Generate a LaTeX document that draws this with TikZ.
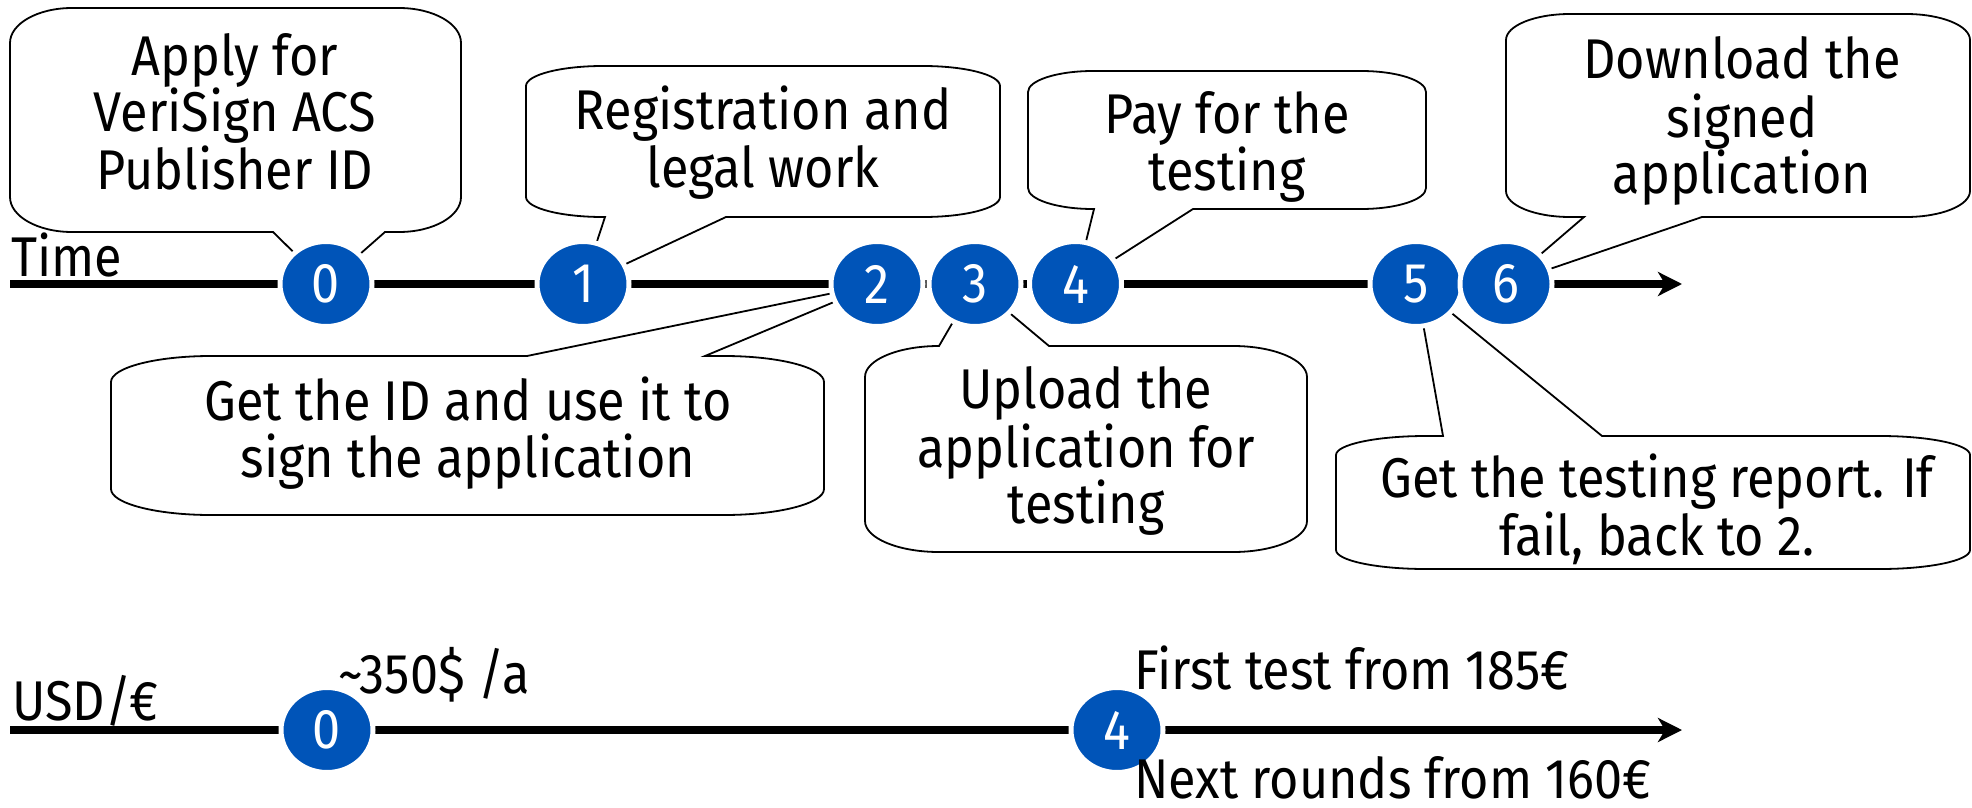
\documentclass[tikz,border=0pt]{standalone}
\usepackage{fontspec}
\setmainfont{Fira Sans}[FakeStretch=0.9]
\usetikzlibrary{shapes.geometric,arrows.meta}
\definecolor{nblue}{RGB}{0,84,184}
\pgfdeclarelayer{bg}
\pgfsetlayers{bg,main}
% callout with tail on bottom edge: x1,y1,x2,y2,rx,ry,t1,t2,apex node
\newcommand\calloutB[9]{%
 \draw[cbox] ({#1+#5},#2) -- ({#3-#5},#2)
 .. controls ({#3-0.4477*#5},#2) and (#3,{#2+0.4477*#6}) .. (#3,{#2+#6})
 -- (#3,{#4-#6})
 .. controls (#3,{#4-0.4477*#6}) and ({#3-0.4477*#5},#4) .. ({#3-#5},#4)
 -- (#8,#4) -- (#9.center) -- (#7,#4) -- ({#1+#5},#4)
 .. controls ({#1+0.4477*#5},#4) and (#1,{#4-0.4477*#6}) .. (#1,{#4-#6})
 -- (#1,{#2+#6})
 .. controls (#1,{#2+0.4477*#6}) and ({#1+0.4477*#5},#2) .. ({#1+#5},#2) -- cycle;}
% callout with tail on top edge
\newcommand\calloutT[9]{%
 \draw[cbox] ({#1+#5},#2) -- (#7,#2) -- (#9.center) -- (#8,#2) -- ({#3-#5},#2)
 .. controls ({#3-0.4477*#5},#2) and (#3,{#2+0.4477*#6}) .. (#3,{#2+#6})
 -- (#3,{#4-#6})
 .. controls (#3,{#4-0.4477*#6}) and ({#3-0.4477*#5},#4) .. ({#3-#5},#4)
 -- ({#1+#5},#4)
 .. controls ({#1+0.4477*#5},#4) and (#1,{#4-0.4477*#6}) .. (#1,{#4-#6})
 -- (#1,{#2+#6})
 .. controls (#1,{#2+0.4477*#6}) and ({#1+0.4477*#5},#2) .. ({#1+#5},#2) -- cycle;}
\tikzset{
 cbox/.style={draw=black, fill=white, line width=1.8pt, line join=miter},
 num/.style={ellipse, fill=nblue, draw=white, line width=5pt, minimum width=92pt,
   minimum height=85pt, inner sep=0pt, text=white, font=\fontsize{56}{57}\selectfont},
 txt/.style={anchor=base, inner sep=0pt, font=\fontsize{56}{57}\selectfont},
 ltxt/.style={anchor=base west, inner sep=0pt, font=\fontsize{56}{57}\selectfont},
 tline/.style={line width=8pt, -{Stealth[length=24pt,width=24pt,inset=7pt]}}
}
\begin{document}
\begin{tikzpicture}[x=1pt,y=-1pt]
\useasboundingbox (0,0) rectangle (1972,808);
% circles (main layer, on top)
\node[num] (c0) at (326,284) {0};
\node[num] (c1) at (583,284) {1};
\node[num] (c2) at (877,284) {2};
\node[num] (c3) at (975,284) {3};
\node[num] (c4) at (1075.5,284) {4};
\node[num] (c5) at (1416,284) {5};
\node[num] (c6) at (1506,284) {6};
\node[num] (b0) at (327,730) {0};
\node[num] (b4) at (1117,730) {4};
\coordinate (t0) at (10,284);
\coordinate (t1) at (1682,284);
\coordinate (u0) at (10,730);
\coordinate (u1) at (1682,730);
\begin{pgfonlayer}{bg}
\calloutB{10}{8}{461}{232}{62}{35}{273}{385}{c0}
\calloutB{526}{66}{1000}{217}{77}{20}{605}{726}{c1}
\calloutT{111}{356}{824}{515}{100}{26}{527}{705}{c2}
\calloutT{865}{346}{1307}{552}{74}{31}{939}{1049}{c3}
\calloutB{1028}{71}{1426}{209}{65}{21}{1094}{1193}{c4}
\calloutB{1506}{14}{1970}{217}{64}{26}{1584}{1702}{c6}
\calloutT{1336}{436}{1970}{569}{90}{19}{1443}{1602}{c5}
\draw[tline] (t0) -- (t1);
\draw[tline] (u0) -- (u1);
\end{pgfonlayer}
% callout texts
\node[txt] (a1) at (235,75) {Apply for};
\node[txt] (a2) at (235,131) {VeriSign ACS};
\node[txt] (a3) at (235,189) {Publisher ID};
\node[txt] (r1) at (763,129) {Registration and};
\node[txt] (r2) at (763,187) {legal work};
\node[txt] (g1) at (468,420) {Get the ID and use it to};
\node[txt] (g2) at (468,477) {sign the application};
\node[txt] (u1t) at (1086,408) {Upload the};
\node[txt] (u2t) at (1086,467) {application for};
\node[txt] (u3t) at (1086,523) {testing};
\node[txt] (p1) at (1227,133) {Pay for the};
\node[txt] (p2) at (1227,190) {testing};
\node[txt] (d1) at (1742,78) {Download the};
\node[txt] (d2) at (1742,137) {signed};
\node[txt] (d3) at (1742,193) {application};
\node[txt] (e1) at (1657,497) {Get the testing report. If};
\node[txt] (e2) at (1657,555) {fail, back to 2.};
% axis labels
\node[ltxt] (time) at (11,276) {Time};
\node[ltxt] (usd) at (12,720) {USD/€};
\node[ltxt] (cost0) at (338,693) {\textasciitilde 350\$ /a};
\node[ltxt] (cost1) at (1134,689) {First test from 185€};
\node[ltxt] (cost2) at (1134,798) {Next rounds from 160€};
\end{tikzpicture}
\end{document}
